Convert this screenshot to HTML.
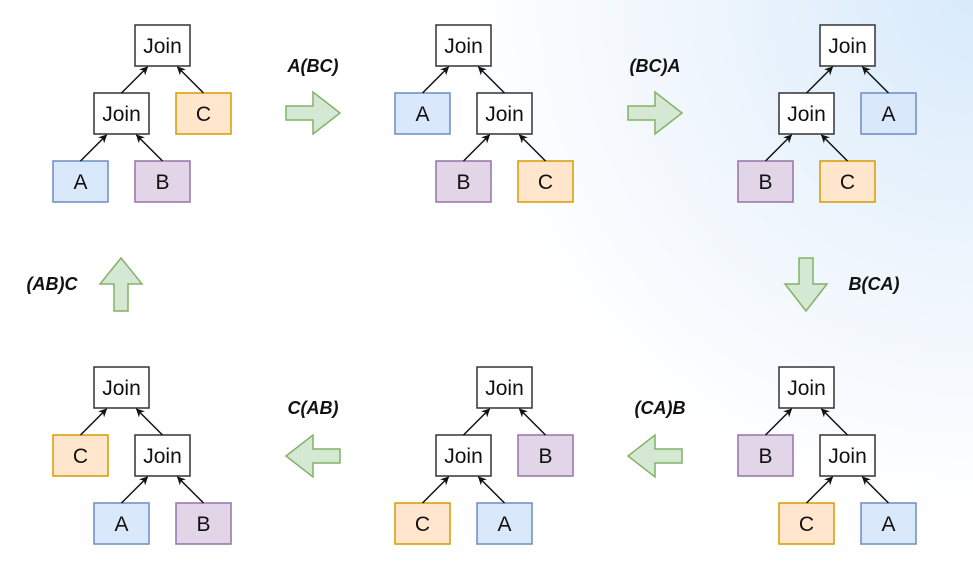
<!DOCTYPE html>
<html><head><meta charset="utf-8"><style>
html,body{margin:0;padding:0;width:973px;height:585px;overflow:hidden;background:#fff}
svg{display:block}
text{font-family:"Liberation Sans",sans-serif}
.n{font-size:21px;text-anchor:middle;fill:#111}
.l{font-size:18px;font-weight:bold;font-style:italic;text-anchor:middle;fill:#111}
.e{stroke:#111;stroke-width:1.5;marker-end:url(#ah)}
.ba{fill:#d5e8d4;stroke:#82b366;stroke-width:1.5}
</style></head><body>
<svg width="973" height="585" viewBox="0 0 973 585" xmlns="http://www.w3.org/2000/svg">
<defs>
<radialGradient id="bg" cx="973" cy="0" r="520" gradientUnits="userSpaceOnUse">
<stop offset="0" stop-color="#d8eafb"/><stop offset="0.6" stop-color="#f1f7fd"/><stop offset="1" stop-color="#ffffff"/>
</radialGradient>
<marker id="ah" viewBox="0 0 10 10" refX="9" refY="5" markerWidth="8.5" markerHeight="8.5" markerUnits="userSpaceOnUse" orient="auto"><path d="M0,0 L10,5 L0,10 L3,5 z" fill="#111"/></marker>
</defs>
<rect width="973" height="585" fill="url(#bg)"/>

<g stroke-width="1.5">
<!-- Tree 1 -->
<rect x="135" y="25" width="55" height="41" fill="#fff" stroke="#333"/><text class="n" x="162.5" y="53">Join</text>
<rect x="94" y="93" width="55" height="41" fill="#fff" stroke="#333"/><text class="n" x="121.5" y="121">Join</text>
<rect x="176" y="93" width="55" height="41" fill="#ffe6cc" stroke="#d79b00"/><text class="n" x="203.5" y="121">C</text>
<rect x="53" y="161" width="55" height="41" fill="#dae8fc" stroke="#6c8ebf"/><text class="n" x="80.5" y="189">A</text>
<rect x="135" y="161" width="55" height="41" fill="#e1d5e7" stroke="#9673a6"/><text class="n" x="162.5" y="189">B</text>
<line class="e" x1="121.5" y1="93" x2="147.5" y2="67"/><line class="e" x1="203.5" y1="93" x2="177.5" y2="67"/>
<line class="e" x1="80.5" y1="161" x2="106.5" y2="135"/><line class="e" x1="162.5" y1="161" x2="136.5" y2="135"/>

<!-- Tree 2 -->
<rect x="436" y="25" width="55" height="41" fill="#fff" stroke="#333"/><text class="n" x="463.5" y="53">Join</text>
<rect x="395" y="93" width="55" height="41" fill="#dae8fc" stroke="#6c8ebf"/><text class="n" x="422.5" y="121">A</text>
<rect x="477" y="93" width="55" height="41" fill="#fff" stroke="#333"/><text class="n" x="504.5" y="121">Join</text>
<rect x="436" y="161" width="55" height="41" fill="#e1d5e7" stroke="#9673a6"/><text class="n" x="463.5" y="189">B</text>
<rect x="518" y="161" width="55" height="41" fill="#ffe6cc" stroke="#d79b00"/><text class="n" x="545.5" y="189">C</text>
<line class="e" x1="422.5" y1="93" x2="448.5" y2="67"/><line class="e" x1="504.5" y1="93" x2="478.5" y2="67"/>
<line class="e" x1="463.5" y1="161" x2="489.5" y2="135"/><line class="e" x1="545.5" y1="161" x2="519.5" y2="135"/>

<!-- Tree 3 -->
<rect x="820" y="25" width="55" height="41" fill="#fff" stroke="#333"/><text class="n" x="847.5" y="53">Join</text>
<rect x="779" y="93" width="55" height="41" fill="#fff" stroke="#333"/><text class="n" x="806.5" y="121">Join</text>
<rect x="861" y="93" width="55" height="41" fill="#dae8fc" stroke="#6c8ebf"/><text class="n" x="888.5" y="121">A</text>
<rect x="738" y="161" width="55" height="41" fill="#e1d5e7" stroke="#9673a6"/><text class="n" x="765.5" y="189">B</text>
<rect x="820" y="161" width="55" height="41" fill="#ffe6cc" stroke="#d79b00"/><text class="n" x="847.5" y="189">C</text>
<line class="e" x1="806.5" y1="93" x2="832.5" y2="67"/><line class="e" x1="888.5" y1="93" x2="862.5" y2="67"/>
<line class="e" x1="765.5" y1="161" x2="791.5" y2="135"/><line class="e" x1="847.5" y1="161" x2="821.5" y2="135"/>

<!-- Tree 4 (bottom right) -->
<rect x="779" y="367" width="55" height="41" fill="#fff" stroke="#333"/><text class="n" x="806.5" y="395">Join</text>
<rect x="738" y="435" width="55" height="41" fill="#e1d5e7" stroke="#9673a6"/><text class="n" x="765.5" y="463">B</text>
<rect x="820" y="435" width="55" height="41" fill="#fff" stroke="#333"/><text class="n" x="847.5" y="463">Join</text>
<rect x="779" y="503" width="55" height="41" fill="#ffe6cc" stroke="#d79b00"/><text class="n" x="806.5" y="531">C</text>
<rect x="861" y="503" width="55" height="41" fill="#dae8fc" stroke="#6c8ebf"/><text class="n" x="888.5" y="531">A</text>
<line class="e" x1="765.5" y1="435" x2="791.5" y2="409"/><line class="e" x1="847.5" y1="435" x2="821.5" y2="409"/>
<line class="e" x1="806.5" y1="503" x2="832.5" y2="477"/><line class="e" x1="888.5" y1="503" x2="862.5" y2="477"/>

<!-- Tree 5 -->
<rect x="477" y="367" width="55" height="41" fill="#fff" stroke="#333"/><text class="n" x="504.5" y="395">Join</text>
<rect x="436" y="435" width="55" height="41" fill="#fff" stroke="#333"/><text class="n" x="463.5" y="463">Join</text>
<rect x="518" y="435" width="55" height="41" fill="#e1d5e7" stroke="#9673a6"/><text class="n" x="545.5" y="463">B</text>
<rect x="395" y="503" width="55" height="41" fill="#ffe6cc" stroke="#d79b00"/><text class="n" x="422.5" y="531">C</text>
<rect x="477" y="503" width="55" height="41" fill="#dae8fc" stroke="#6c8ebf"/><text class="n" x="504.5" y="531">A</text>
<line class="e" x1="463.5" y1="435" x2="489.5" y2="409"/><line class="e" x1="545.5" y1="435" x2="519.5" y2="409"/>
<line class="e" x1="422.5" y1="503" x2="448.5" y2="477"/><line class="e" x1="504.5" y1="503" x2="478.5" y2="477"/>

<!-- Tree 6 -->
<rect x="94" y="367" width="55" height="41" fill="#fff" stroke="#333"/><text class="n" x="121.5" y="395">Join</text>
<rect x="53" y="435" width="55" height="41" fill="#ffe6cc" stroke="#d79b00"/><text class="n" x="80.5" y="463">C</text>
<rect x="135" y="435" width="55" height="41" fill="#fff" stroke="#333"/><text class="n" x="162.5" y="463">Join</text>
<rect x="94" y="503" width="55" height="41" fill="#dae8fc" stroke="#6c8ebf"/><text class="n" x="121.5" y="531">A</text>
<rect x="176" y="503" width="55" height="41" fill="#e1d5e7" stroke="#9673a6"/><text class="n" x="203.5" y="531">B</text>
<line class="e" x1="80.5" y1="435" x2="106.5" y2="409"/><line class="e" x1="162.5" y1="435" x2="136.5" y2="409"/>
<line class="e" x1="121.5" y1="503" x2="147.5" y2="477"/><line class="e" x1="203.5" y1="503" x2="177.5" y2="477"/>
</g>

<!-- Block arrows -->
<path class="ba" d="M286,106 L313,106 L313,92 L340,113 L313,134 L313,120 L286,120 Z"/>
<path class="ba" d="M628,106 L655,106 L655,92 L682,113 L655,134 L655,120 L628,120 Z"/>
<path class="ba" d="M340,449 L313,449 L313,435 L286,456 L313,477 L313,463 L340,463 Z"/>
<path class="ba" d="M682,449 L655,449 L655,435 L628,456 L655,477 L655,463 L682,463 Z"/>
<path class="ba" d="M799,258 L813,258 L813,284 L827,284 L806,311 L785,284 L799,284 Z"/>
<path class="ba" d="M114,311 L128,311 L128,284 L142,284 L121,258 L100,284 L114,284 Z"/>

<text class="l" x="313" y="72">A(BC)</text>
<text class="l" x="655" y="72">(BC)A</text>
<text class="l" x="874" y="290">B(CA)</text>
<text class="l" x="660" y="414">(CA)B</text>
<text class="l" x="313" y="414">C(AB)</text>
<text class="l" x="52" y="290">(AB)C</text>
</svg>
</body></html>
